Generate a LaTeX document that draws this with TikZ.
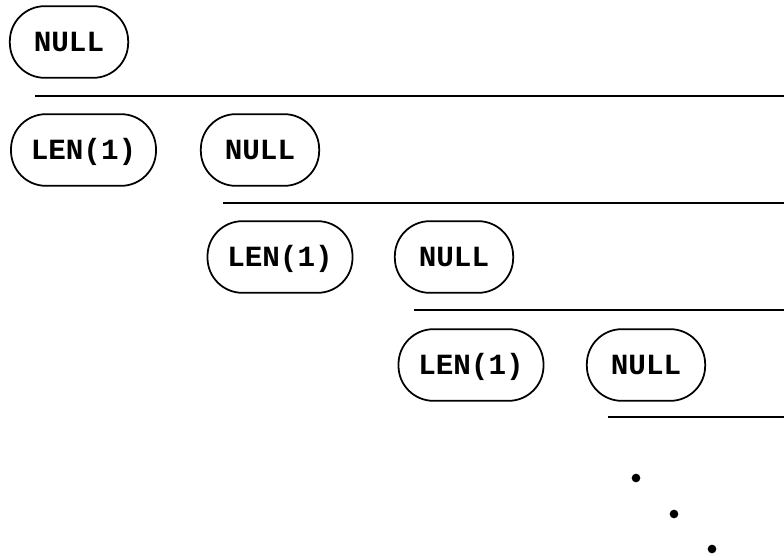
\documentclass[tikz,border=0pt]{standalone}
\usepackage{fontspec}
\setmonofont{Liberation Mono}
\usetikzlibrary{positioning}

\tikzset{
    cell/.style = {draw, line width=1.5pt, rounded corners=1.05cm, minimum height=2.15cm,
                   inner sep=0pt, text height=16pt, text depth=0pt,
                   font=\ttfamily\bfseries\fontsize{25}{25}\selectfont},
    nullcell/.style = {cell, minimum width=3.55cm},
    lencell/.style = {cell, minimum width=4.35cm},
    rule/.style = {line width=1.5pt}
}

\begin{document}
\begin{tikzpicture}[x=0.03cm, y=-0.03cm]

    \useasboundingbox (0,0) rectangle (784,557);

    % first row
    \node[nullcell] (null0) at (69,42) {NULL};
    \draw[rule] (35,96) -- (784,96);

    % second row
    \node[lencell] (len1) at (83.5,150) {LEN(1)};
    \node[nullcell] (null1) at (260,150) {NULL};
    \draw[rule] (223,203) -- (784,203);

    % third row
    \node[lencell] (len2) at (280,257) {LEN(1)};
    \node[nullcell] (null2) at (454,257) {NULL};
    \draw[rule] (414,310) -- (784,310);

    % fourth row
    \node[lencell] (len3) at (471,365) {LEN(1)};
    \node[nullcell] (null3) at (646,365) {NULL};
    \draw[rule] (608,417) -- (784,417);

    % dots
    \fill (636,478) circle (0.13cm);
    \fill (674,514) circle (0.13cm);
    \fill (712,549) circle (0.13cm);

\end{tikzpicture}
\end{document}
